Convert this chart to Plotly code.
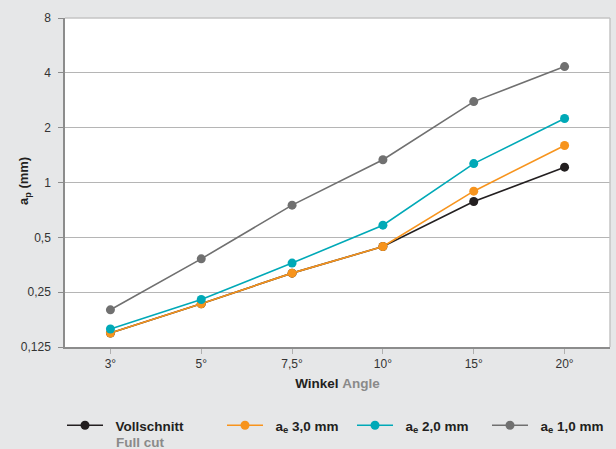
import plotly.graph_objects as go

categories = ["3°", "5°", "7,5°", "10°", "15°", "20°"]

full_cut = [0.149, 0.216, 0.318, 0.445, 0.786, 1.214]
ae_3_0 = [0.149, 0.216, 0.318, 0.445, 0.896, 1.596]
ae_2_0 = [0.157, 0.228, 0.361, 0.583, 1.27, 2.246]
ae_1_0 = [0.200, 0.381, 0.751, 1.333, 2.78, 4.33]

y_tickvals = [0.125, 0.25, 0.5, 1, 2, 4, 8]
y_ticktext = ["0,125", "0,25", "0,5", "1", "2", "4", "8"]

series = [
    ("&nbsp;&nbsp;<b>Vollschnitt</b>", full_cut, "#231f20", "legend"),
    ("&nbsp;&nbsp;<b>a<sub>e</sub> 3,0 mm</b>", ae_3_0, "#f7941d", "legend2"),
    ("&nbsp;&nbsp;<b>a<sub>e</sub> 2,0 mm</b>", ae_2_0, "#00a9b7", "legend3"),
    ("&nbsp;&nbsp;<b>a<sub>e</sub> 1,0 mm</b>", ae_1_0, "#707070", "legend4"),
]
leg_px = [62, 222, 352, 487]

fig = go.Figure()
for name, vals, color, leg in series:
    fig.add_trace(go.Scatter(
        x=categories, y=vals, name=name, mode="lines+markers",
        line=dict(color=color, width=1.6),
        marker=dict(color=color, size=9),
        legend=leg,
    ))

W, H = 616, 449
ml, mr, mt, mb = 65, 6, 18, 102
pw = W - ml - mr
ph = H - mt - mb

def lx(px):
    return (px - ml) / pw

def ly(py):
    return (H - mb - py) / ph

FONT = "Liberation Sans, Arial, sans-serif"
leg_font = dict(family=FONT, size=13.5, color="#231f20")
leg_common = dict(orientation="v", xanchor="left", yanchor="top", bgcolor="rgba(0,0,0,0)",
                  font=leg_font, borderwidth=0, itemclick=False, itemwidth=36)

fig.update_layout(
    width=W, height=H,
    margin=dict(l=ml, r=mr, t=mt, b=mb, autoexpand=False),
    paper_bgcolor="#e6e7e8",
    plot_bgcolor="#ffffff",
    font=dict(family=FONT, size=12, color="#333333"),
    showlegend=True,
    legend=dict(x=lx(leg_px[0]), y=ly(410), **leg_common),
    legend2=dict(x=lx(leg_px[1]), y=ly(410), **leg_common),
    legend3=dict(x=lx(leg_px[2]), y=ly(410), **leg_common),
    legend4=dict(x=lx(leg_px[3]), y=ly(410), **leg_common),
    xaxis=dict(
        type="category", range=[-0.5, 5.5], automargin=False,
        showline=True, linecolor="#8c8c8c", linewidth=1.5,
        ticks="outside", ticklen=5, tickcolor="#b0b0b0", tickwidth=1,
        showgrid=False, zeroline=False,
        tickfont=dict(size=12, color="#333333"),
        title=dict(text="<b>Winkel</b> <b><span style='color:#8a8a8a'>Angle</span></b>",
                   font=dict(size=13.5, color="#231f20"), standoff=8),
    ),
    yaxis=dict(
        type="log", range=[-0.90309, 0.90309], automargin=False,
        tickvals=y_tickvals, ticktext=y_ticktext,
        showline=True, linecolor="#8c8c8c", linewidth=1.5,
        ticks="outside", ticklen=5, tickcolor="#8c8c8c", tickwidth=1,
        ticklabelstandoff=5,
        showgrid=True, gridcolor="#b5b5b5", gridwidth=1.2,
        zeroline=False,
        tickfont=dict(size=12, color="#333333"),
    ),
    shapes=[
        dict(type="line", xref="paper", yref="paper", x0=1, x1=1, y0=0, y1=1,
             line=dict(color="#c4c4c4", width=1.5)),
        dict(type="line", xref="paper", yref="paper", x0=0, x1=1, y0=1, y1=1,
             line=dict(color="#c4c4c4", width=1.5)),
    ],
    annotations=[
        dict(text="<b>a<sub>p</sub> (mm)</b>", xref="paper", yref="paper",
             x=lx(24), y=ly(181), xanchor="center", yanchor="middle", textangle=-90,
             showarrow=False, font=dict(family=FONT, size=13, color="#231f20")),
        dict(text="<b>Full cut</b>", xref="paper", yref="paper",
             x=lx(114), y=ly(442), xanchor="left", yanchor="middle", showarrow=False,
             font=dict(family=FONT, size=13.5, color="#8a8a8a")),
    ],
)

fig.write_html(
    "out.html",
    config={"displayModeBar": False},
    post_script="document.body.style.margin='0';document.body.style.overflow='hidden';",
)
